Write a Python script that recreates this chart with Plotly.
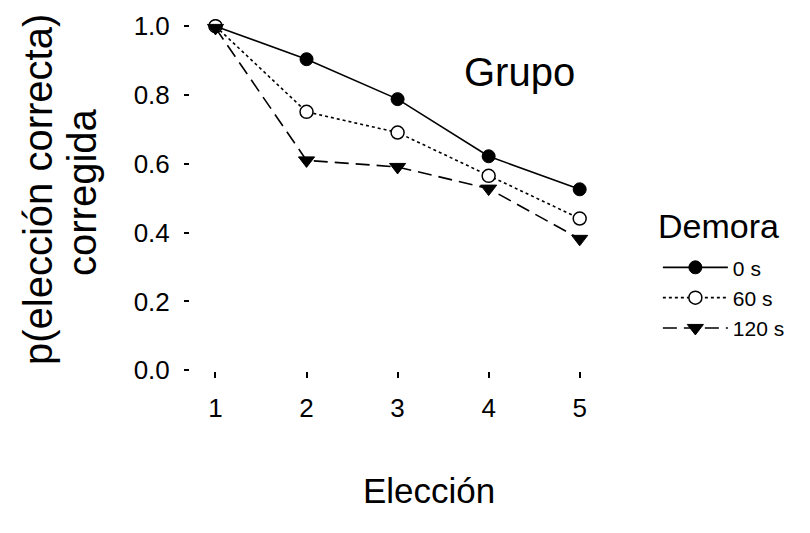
import plotly.graph_objects as go

eleccion = [1, 2, 3, 4, 5]
demora_0 = [1.0, 0.904, 0.788, 0.622, 0.526]
demora_60 = [1.0, 0.751, 0.691, 0.565, 0.441]
demora_120 = [0.995, 0.61, 0.591, 0.528, 0.382]
series_names = ["0 s", "60 s", "120 s"]
y_ticks = [0.0, 0.2, 0.4, 0.6, 0.8, 1.0]
y_ticklabels = ["0.0", "0.2", "0.4", "0.6", "0.8", "1.0"]

FONT = "Liberation Sans, Arial, sans-serif"

fig = go.Figure()
fig.add_trace(go.Scatter(
    x=eleccion, y=demora_0, name=series_names[0], mode="lines+markers",
    line=dict(color="black", width=1.6, dash="solid"),
    marker=dict(symbol="circle", size=13, color="black", line=dict(color="black", width=1))))
fig.add_trace(go.Scatter(
    x=eleccion, y=demora_60, name=series_names[1], mode="lines+markers",
    line=dict(color="black", width=1.6, dash="dot"),
    marker=dict(symbol="circle", size=13, color="white", line=dict(color="black", width=1.5))))
fig.add_trace(go.Scatter(
    x=eleccion, y=demora_120, name=series_names[2], mode="lines+markers",
    line=dict(color="black", width=1.6, dash="14px,7px"),
    marker=dict(symbol="triangle-down", size=14, color="black", line=dict(color="black", width=1))))

fig.update_layout(
    width=810, height=533,
    margin=dict(l=182, r=211, t=2, b=170, autoexpand=False),
    paper_bgcolor="white", plot_bgcolor="white",
    font=dict(family=FONT, color="black"),
    showlegend=True,
    legend=dict(x=1.122, y=0.343, xanchor="left", yanchor="top",
                font=dict(size=21, family=FONT, color="black"),
                itemwidth=65,
                bgcolor="rgba(0,0,0,0)", borderwidth=0, tracegroupgap=0),
    xaxis=dict(range=[0.72, 5.3], tickvals=eleccion, ticktext=[str(v) for v in eleccion],
               showline=False, showgrid=False, zeroline=False, automargin=False,
               ticks="outside", ticklen=6, tickwidth=1.5, tickcolor="black",
               tickfont=dict(size=26, family=FONT, color="black"), ticklabelstandoff=8),
    yaxis=dict(range=[-0.002, 1.047], tickvals=y_ticks, ticktext=y_ticklabels,
               showline=False, showgrid=False, zeroline=False, automargin=False,
               ticks="outside", ticklen=5, tickwidth=1.5, tickcolor="black",
               tickfont=dict(size=26, family=FONT, color="black"), ticklabelstandoff=9),
)

def px_x(p):
    return (p - 190) / 417.0

def px_y(p):
    return (371 - p) / 361.0

annotations = [
    dict(text="Elección", x=px_x(429), y=px_y(490), size=35),
    dict(text="p(elección correcta)", x=px_x(38), y=px_y(190), size=40, angle=-90),
    dict(text="corregida", x=px_x(82), y=px_y(192), size=40, angle=-90),
    dict(text="Grupo", x=px_x(519), y=px_y(72), size=40),
    dict(text="Demora", x=px_x(718), y=px_y(226), size=34),
]
for a in annotations:
    fig.add_annotation(xref="paper", yref="paper", showarrow=False,
                       xanchor="center", yanchor="middle",
                       font=dict(family=FONT, color="black", size=a["size"]),
                       text=a["text"], x=a["x"], y=a["y"], textangle=a.get("angle", 0))

fig.write_html("out.html")
